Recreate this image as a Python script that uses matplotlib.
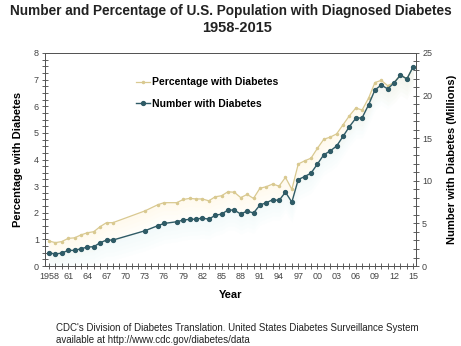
import numpy as np
import matplotlib

matplotlib.use('Agg')
import matplotlib.pyplot as plt
from matplotlib.ticker import MultipleLocator, FixedLocator

plt.rcParams['font.family'] = ['Liberation Sans', 'DejaVu Sans']

years = [1958, 1959, 1960, 1961, 1962, 1963, 1964, 1965, 1966, 1967, 1968,
         1973, 1975, 1976,
         1978, 1979, 1980, 1981, 1982, 1983, 1984, 1985, 1986, 1987,
         1988, 1989, 1990, 1991, 1992, 1993, 1994, 1995, 1996, 1997,
         1998, 1999, 2000, 2001, 2002, 2003, 2004, 2005, 2006, 2007,
         2008, 2009, 2010, 2011, 2012, 2013, 2014, 2015]

# percent of population with diagnosed diabetes
percentage = [0.94, 0.88, 0.92, 1.04, 1.06, 1.17, 1.25, 1.29, 1.48, 1.63, 1.63,
              2.07, 2.30, 2.38,
              2.38, 2.50, 2.54, 2.52, 2.52, 2.45, 2.60, 2.64, 2.79, 2.77,
              2.57, 2.69, 2.54, 2.92, 2.98, 3.08, 3.00, 3.33, 2.88, 3.83,
              3.95, 4.05, 4.42, 4.76, 4.84, 4.96, 5.30, 5.64, 5.93, 5.86,
              6.30, 6.89, 6.97, 6.77, 6.89, 7.18, 7.03, 7.49]

# people with diagnosed diabetes, millions
number = [1.56, 1.41, 1.53, 1.84, 1.84, 2.03, 2.23, 2.27, 2.74, 3.05, 3.05,
          4.14, 4.73, 5.00,
          5.20, 5.40, 5.48, 5.50, 5.63, 5.50, 5.95, 6.10, 6.57, 6.57,
          6.10, 6.46, 6.22, 7.16, 7.43, 7.78, 7.70, 8.67, 7.50, 10.15,
          10.50, 10.90, 11.97, 13.06, 13.50, 14.08, 15.20, 16.35, 17.33, 17.40,
          18.90, 20.66, 21.24, 20.78, 21.50, 22.40, 21.95, 23.40]

tick_years = list(range(1958, 2016, 3))
tick_labels = ['1958'] + ['%02d' % (y % 100) for y in tick_years[1:]]

pct_color = '#d9c990'
num_color = '#2f5b66'

fig = plt.figure(figsize=(4.61, 3.46), dpi=100)
ax = fig.add_axes([0.098, 0.231, 0.804, 0.616])
ax2 = ax.twinx()

# faint glow under each line
yrs = np.array(years, dtype=float)
pct = np.array(percentage)
num = np.array(number) * 8 / 25
for i in range(5):
    d = 0.15 * (i + 1)
    ax.fill_between(yrs, pct, np.maximum(pct - d, 0), color='#fff6d0', alpha=0.07, lw=0)
    ax.fill_between(yrs, num, np.maximum(num - d, 0), color='#e2f6fb', alpha=0.08, lw=0)

l1, = ax.plot(years, percentage, color=pct_color, lw=0.9, marker='o', ms=1.5,
              label='Percentage with Diabetes')
l2, = ax2.plot(years, number, color=num_color, lw=1.0, marker='o', ms=2.8,
               label='Number with Diabetes')

ax.set_xlim(1957.4, 2015.4)
ax.set_ylim(0, 8)
ax2.set_ylim(0, 25)

ax.xaxis.set_major_locator(FixedLocator(tick_years))
ax.set_xticklabels(tick_labels)
ax.xaxis.set_minor_locator(MultipleLocator(1))
ax.yaxis.set_major_locator(MultipleLocator(1))
ax.yaxis.set_minor_locator(MultipleLocator(0.25))
ax2.yaxis.set_major_locator(MultipleLocator(5))
ax2.yaxis.set_minor_locator(MultipleLocator(1))

for a in (ax, ax2):
    a.tick_params(which='both', direction='inout', colors='#444444', labelsize=6.5,
                  width=0.6, pad=2)
    a.tick_params(which='major', length=5)
    a.tick_params(which='minor', length=4)
    for s in a.spines.values():
        s.set_color('#555555')
        s.set_linewidth(0.7)

ax.set_xlabel('Year', fontsize=8, fontweight='bold', labelpad=6)
ax.set_ylabel('Percentage with Diabetes', fontsize=8, fontweight='bold', labelpad=8)
ax2.set_ylabel('Number with Diabetes (Millions)', fontsize=8, fontweight='bold', labelpad=11)

ax.legend(handles=[l1, l2], loc='upper left', bbox_to_anchor=(0.22, 0.93),
          frameon=False, handlelength=1.3, handletextpad=0.2,
          labelspacing=1.1, prop={'weight': 'bold', 'size': 7.5})

fig.text(0.5, 1 - 11 / 346, 'Number and Percentage of U.S. Population with Diagnosed Diabetes',
         ha='center', va='center', fontsize=9.8, fontweight='bold', color='#222222')
fig.text(237 / 461, 1 - 28 / 346, '1958-2015',
         ha='center', va='center', fontsize=10.5, fontweight='bold', color='#222222')

fig.text(56 / 461, 1 - 328 / 346,
         "CDC's Division of Diabetes Translation. United States Diabetes Surveillance System",
         ha='left', va='center', fontsize=7, color='#222222')
fig.text(56 / 461, 1 - 340 / 346, 'available at http://www.cdc.gov/diabetes/data',
         ha='left', va='center', fontsize=7, color='#222222')

fig.savefig('out.png', dpi=100)
